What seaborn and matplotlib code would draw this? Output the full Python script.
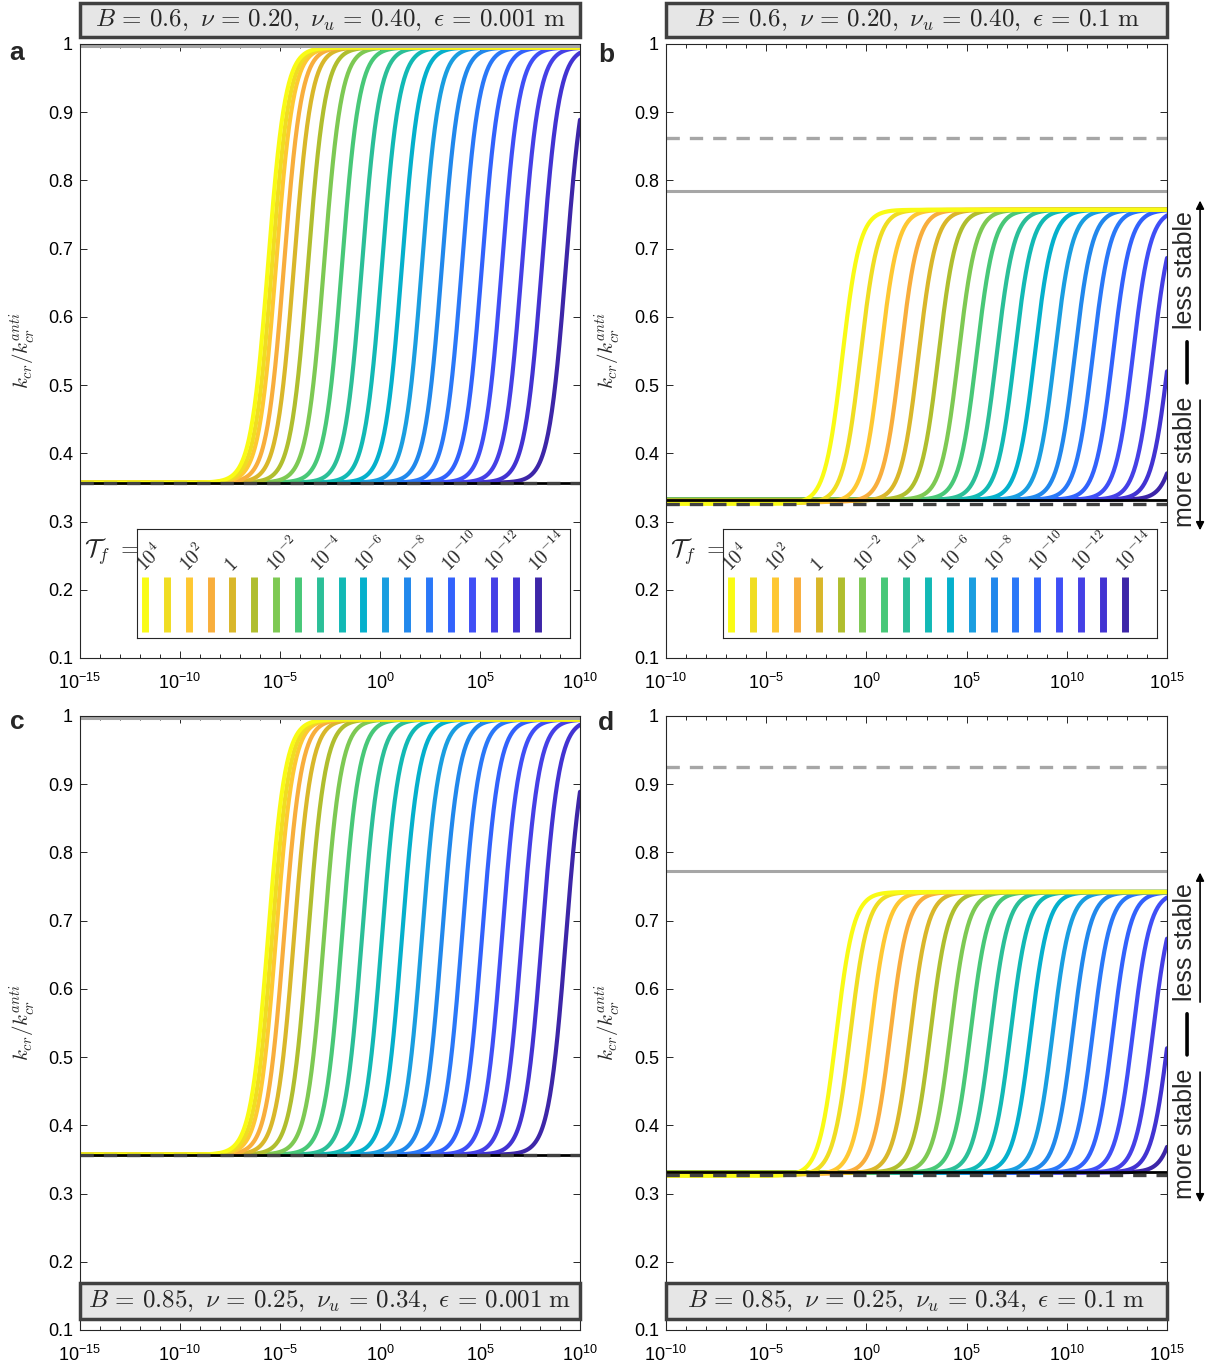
import numpy as np
import pandas as pd
import matplotlib
matplotlib.use("Agg")
import matplotlib.pyplot as plt
import matplotlib.ticker as mticker
from matplotlib.patches import Rectangle
import seaborn as sns

# Tf values (exponents), one curve each
tf_exp = [4, 3, 2, 1, 0, -1, -2, -3, -4, -5, -6, -7, -8, -9, -10, -11, -12, -13, -14]

# colours (parula, reversed)
colors = ["#f9fb15", "#f0dd22", "#fec832", "#f8ae3c", "#d9b72a", "#b0be2e",
          "#7ec953", "#48c878", "#2bbf98", "#12b9b5", "#05b0cc", "#1a9ee0",
          "#2188ec", "#2a78f8", "#3262fc", "#3f4ff6", "#4540e6", "#4233d2", "#3d26a8"]

# log10 of the frequency where each curve is half way up
mid_a = [-5.6, -5.4, -5.2, -4.8, -4.3, -3.6, -2.8, -1.9, -0.9, 0.1, 1.1, 2.1,
         3.1, 4.1, 5.1, 6.1, 7.1, 8.1, 9.3]
mid_b = [-1.2, -0.3, 0.7, 1.7, 2.6, 3.6, 4.6, 5.5, 6.5, 7.4, 8.4, 9.4, 10.4,
         11.3, 12.3, 13.3, 14.3, 15.1, 16.0]
mid_c = mid_a
mid_d = [-1.5, -0.8, 0.2, 1.2, 2.2, 3.2, 4.2, 5.2, 6.2, 7.2, 8.2, 9.3, 10.3,
         11.3, 12.3, 13.3, 14.3, 15.1, 16.0]

# lower plateau of each curve (first few sit slightly lower in b and d)
low_a = [0.357] * 19
low_b = [0.326, 0.327, 0.328, 0.329, 0.330] + [0.332] * 14
low_c = low_a
low_d = [0.326, 0.327, 0.328, 0.329, 0.330] + [0.331] * 14

# upper plateau
high = {"a": 0.995, "b": 0.757, "c": 0.995, "d": 0.742}

# horizontal reference levels: (upper dashed, upper solid, lower solid, lower dashed)
ref_levels = {"a": (1.0, 0.997, 0.357, 0.357),
              "b": (0.862, 0.785, 0.332, 0.325),
              "c": (1.0, 0.997, 0.357, 0.357),
              "d": (0.925, 0.773, 0.331, 0.327)}

x_range = {"a": (-15, 10), "b": (-10, 15), "c": (-15, 10), "d": (-10, 15)}

titles = {"a": r"$B\,=\,0.6,\ \nu\,=\,0.20,\ \nu_u\,=\,0.40,\ \epsilon\,=\,0.001\ \mathrm{m}$",
          "b": r"$B\,=\,0.6,\ \nu\,=\,0.20,\ \nu_u\,=\,0.40,\ \epsilon\,=\,0.1\ \mathrm{m}$",
          "c": r"$B\,=\,0.85,\ \nu\,=\,0.25,\ \nu_u\,=\,0.34,\ \epsilon\,=\,0.001\ \mathrm{m}$",
          "d": r"$B\,=\,0.85,\ \nu\,=\,0.25,\ \nu_u\,=\,0.34,\ \epsilon\,=\,0.1\ \mathrm{m}$"}

mids = {"a": mid_a, "b": mid_b, "c": mid_c, "d": mid_d}
lows = {"a": low_a, "b": low_b, "c": low_c, "d": low_d}

sns.set_style("ticks")
plt.rcParams["font.family"] = ["Liberation Sans", "DejaVu Sans"]
plt.rcParams["mathtext.fontset"] = "cm"

W, H = 1227, 1371
fig = plt.figure(figsize=(W / 100, H / 100), dpi=100)


def px_axes(left, top, right, bottom):
    return fig.add_axes([left / W, 1 - bottom / H, (right - left) / W, (bottom - top) / H])


axes = {"a": px_axes(80, 44, 580, 658),
        "b": px_axes(666, 44, 1167, 658),
        "c": px_axes(80, 716, 580, 1330),
        "d": px_axes(666, 716, 1167, 1330)}

ink = "#262626"


def curve_frame(p):
    lo, hi = x_range[p]
    x = np.logspace(lo, hi, 800)
    rows = []
    for e, m, base in zip(tf_exp, mids[p], lows[p]):
        k = base + (high[p] - base) / (1 + 10 ** (-(np.log10(x) - m)))
        rows.append(pd.DataFrame({"x": x, "k": k, "tf": e}))
    return pd.concat(rows, ignore_index=True)


for p, ax in axes.items():
    df = curve_frame(p)
    # plot dark curves first so yellow ends up on top
    for e, c in list(zip(tf_exp, colors))[::-1]:
        sns.lineplot(data=df[df["tf"] == e], x="x", y="k", color=c, lw=3.0,
                     estimator=None, sort=False, ax=ax)

    up_d, up_s, lo_s, lo_d = ref_levels[p]
    ax.axhline(up_s, color="#a6a6a6", lw=2.2)
    ax.axhline(up_d, color="#a6a6a6", lw=2.4, ls=(0, (4, 3)))
    ax.axhline(lo_s, color="black", lw=2.0)
    ax.axhline(lo_d, color="#404040", lw=2.4, ls=(0, (4, 3)))

    lo, hi = x_range[p]
    ax.set_xscale("log")
    ax.set_xlim(10.0 ** lo, 10.0 ** hi)
    ax.set_ylim(0.1, 1.0)
    ax.xaxis.set_major_locator(mticker.FixedLocator(10.0 ** np.arange(lo, hi + 1, 5)))
    ax.xaxis.set_minor_locator(mticker.FixedLocator(10.0 ** np.arange(lo, hi + 1, 1)))
    ax.xaxis.set_major_formatter(mticker.FuncFormatter(
        lambda v, pos: r"$\mathregular{10^{%d}}$" % round(np.log10(v))))
    ax.xaxis.set_minor_formatter(mticker.NullFormatter())
    yt = np.round(np.arange(0.1, 1.01, 0.1), 1)
    ax.set_yticks(yt)
    ax.set_yticklabels(["1" if v == 1 else f"{v:.1f}" for v in yt])
    ax.tick_params(which="both", direction="in", top=True, right=True,
                   colors=ink, labelcolor="black", labelsize=13, width=0.7)
    ax.tick_params(which="major", length=5)
    ax.tick_params(axis="x", which="major", pad=11)
    ax.tick_params(axis="y", which="major", pad=5)
    ax.tick_params(which="minor", length=3)
    for s in ax.spines.values():
        s.set_visible(True)
        s.set_color(ink)
        s.set_linewidth(0.8)
    ax.set_xlabel("")
    ax.set_ylabel(r"$k_{cr}/k_{cr}^{anti}$", fontsize=15)
    ax.yaxis.set_label_coords(-0.085, 0.5)

    # parameter box across the full axes width
    if p in ("a", "b"):
        y0, y1 = 1.0114, 1.0668
    else:
        y0, y1 = 0.0179, 0.0765
    ax.add_patch(Rectangle((0, y0), 1, y1 - y0, transform=ax.transAxes,
                           facecolor="#e6e6e6", edgecolor="#404040", lw=2.5,
                           clip_on=False, zorder=5))
    ax.text(0.5, (y0 + y1) / 2, titles[p], transform=ax.transAxes, ha="center",
            va="center", fontsize=18, zorder=6)

# panel letters
for p, (x, y) in {"a": (17, 53), "b": (606, 55), "c": (17, 722), "d": (606, 723)}.items():
    fig.text(x / W, 1 - y / H, p, fontsize=19, fontweight="bold", ha="center", va="center")

# Tf legend in panels a and b
for p in ("a", "b"):
    ax = axes[p]
    lax = ax.inset_axes([0.114, 0.0326, 0.866, 0.178])
    lax.set_xlim(-0.38, 19.48)
    lax.set_ylim(0, 1)
    lax.vlines(range(len(tf_exp)), 0.055, 0.56, colors=colors, lw=5)
    for i, e in enumerate(tf_exp):
        if i % 2 == 0:
            lab = r"$1$" if e == 0 else r"$10^{%d}$" % e
            lax.text(i - 0.05, 0.6, lab, rotation=45, rotation_mode="anchor",
                     ha="left", va="baseline", fontsize=14)
    lax.set_xticks([])
    lax.set_yticks([])
    for s in lax.spines.values():
        s.set_color(ink)
        s.set_linewidth(0.8)
    ax.text(0.008, 0.173, r"$\mathcal{T}_f\ =$", transform=ax.transAxes,
            ha="left", va="center", fontsize=18)

# stability annotation in panels b and d
for p in ("b", "d"):
    ax = axes[p]
    ax.text(1.036, 0.632, "less stable", rotation=90, transform=ax.transAxes,
            ha="center", va="center", fontsize=18)
    ax.text(1.036, 0.319, "more stable", rotation=90, transform=ax.transAxes,
            ha="center", va="center", fontsize=18)
    ax.annotate("", xy=(1.04, 0.515), xytext=(1.04, 0.448), xycoords="axes fraction",
                arrowprops=dict(arrowstyle="-", color="k", lw=2.6, shrinkA=0, shrinkB=0))
    ax.annotate("", xy=(1.066, 0.745), xytext=(1.066, 0.534), xycoords="axes fraction",
                arrowprops=dict(arrowstyle="-|>", color="k", lw=1.2, mutation_scale=12,
                                shrinkA=0, shrinkB=0))
    ax.annotate("", xy=(1.066, 0.208), xytext=(1.066, 0.420), xycoords="axes fraction",
                arrowprops=dict(arrowstyle="-|>", color="k", lw=1.2, mutation_scale=12,
                                shrinkA=0, shrinkB=0))

fig.savefig("out.png", dpi=100)
